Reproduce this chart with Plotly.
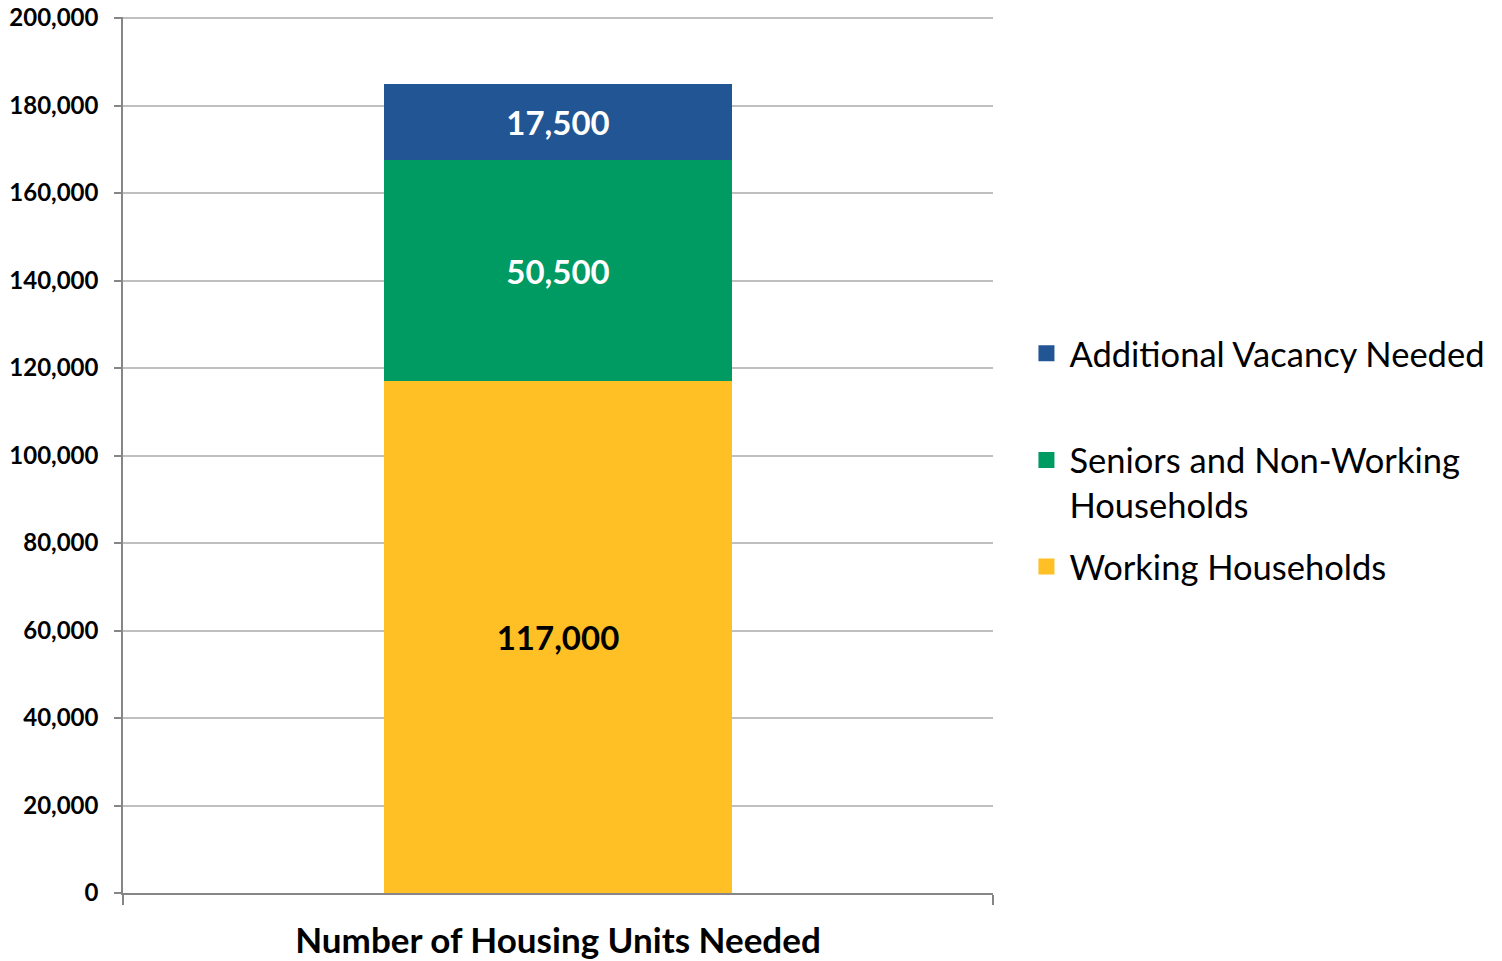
import plotly.graph_objects as go

category = ["Number of Housing Units Needed"]
series_names = ["Working Households", "Seniors and Non-Working<br>Households", "Additional Vacancy Needed<br> "]
working = [117000]
seniors = [50500]
vacancy = [17500]
y_ticks = [0, 20000, 40000, 60000, 80000, 100000, 120000, 140000, 160000, 180000, 200000]

colors = ["#FEC024", "#009A63", "#225594"]
text_colors = ["#000000", "#FFFFFF", "#FFFFFF"]
legend_ranks = [3, 2, 1]

FONT = "Lato"
fig = go.Figure()
for i, (name, vals) in enumerate(zip(series_names, [working, seniors, vacancy])):
    fig.add_trace(go.Bar(
        x=category, y=vals, name=name, showlegend=False,
        marker=dict(color=colors[i], line=dict(width=0)),
        width=0.4,
        texttemplate="%{y:,}", textposition="inside", insidetextanchor="middle",
        textfont=dict(family=FONT, size=33, color=text_colors[i], weight="bold"),
        textangle=0,
    ))
# legend entries with square swatches
for i, name in enumerate(series_names):
    fig.add_trace(go.Scatter(
        x=[None], y=[None], mode="markers", name=name, legendgroup=f"g{i}",
        legendrank=legend_ranks[i],
        marker=dict(symbol="square", size=20, color=colors[i]),
    ))

fig.update_layout(
    barmode="stack",
    width=1502, height=961,
    margin=dict(l=123, r=509, t=17, b=68, autoexpand=False),
    paper_bgcolor="white", plot_bgcolor="white",
    font=dict(family=FONT, color="#000000"),
    showlegend=True,
    legend=dict(
        x=1.035, xanchor="left", y=0.494, yanchor="middle",
        traceorder="grouped", tracegroupgap=14, valign="top",
        font=dict(family=FONT, size=34.5, color="#000000"),
        itemsizing="trace", itemwidth=36,
    ),
)
fig.update_xaxes(
    range=[-0.5, 0.5], showline=True, linecolor="#868686", linewidth=1.5,
    ticks="outside", tickson="boundaries", ticklen=10, tickcolor="#868686", tickwidth=1.5,
    tickfont=dict(family=FONT, size=35, color="#000000", weight="bold"),
    ticklabelstandoff=16, showgrid=False, zeroline=False,
)
fig.update_yaxes(
    range=[0, 200250], tickvals=y_ticks, tickformat=",",
    showline=True, linecolor="#868686", linewidth=1.5,
    ticks="outside", ticklen=7, tickcolor="#868686", tickwidth=1.5,
    showgrid=True, gridcolor="#BFBFBF", gridwidth=1.5, zeroline=False,
    tickfont=dict(family=FONT, size=24, color="#000000", weight="bold"),
    ticklabelstandoff=11, ticklabeloverflow="allow",
)

fig.write_html("out.html", config={"displayModeBar": False},
               post_script="document.body.style.margin='0';")
